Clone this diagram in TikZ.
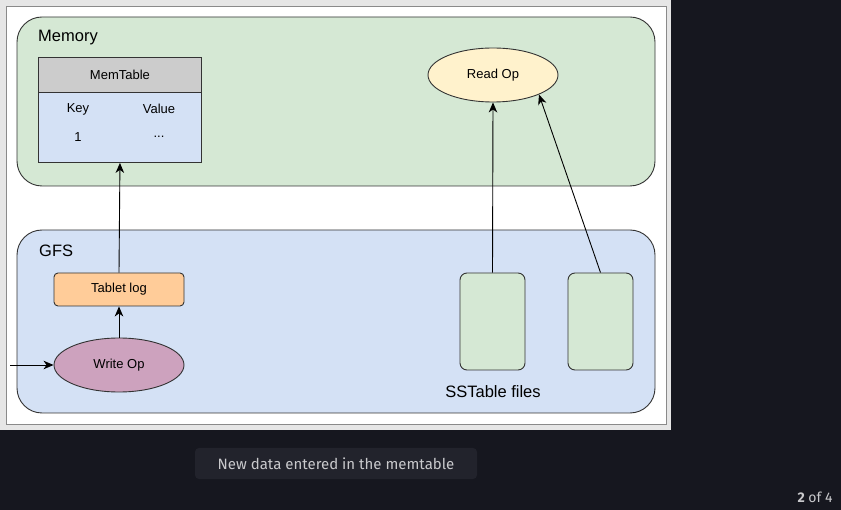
\documentclass[tikz,border=0pt]{standalone}
\usepackage{fontspec}
\setmainfont{Liberation Sans}
\newfontfamily\uifont{Fira Sans}
\usetikzlibrary{shapes.geometric,arrows.meta}
\definecolor{pagebg}{HTML}{16171F}
\definecolor{framegray}{HTML}{E6E6E6}
\definecolor{edgegray}{HTML}{8A8A8A}
\definecolor{memgreen}{HTML}{D5E8D4}
\definecolor{gfsblue}{HTML}{D4E1F5}
\definecolor{headgray}{HTML}{CCCCCC}
\definecolor{logorange}{HTML}{FFCC99}
\definecolor{readyellow}{HTML}{FFF2CC}
\definecolor{writepurple}{HTML}{CDA2BE}
\definecolor{capbg}{HTML}{22232C}
\definecolor{captext}{HTML}{C9C9CC}
\definecolor{linegray}{HTML}{333333}
\tikzset{
  region/.style={draw=linegray, line width=0.9pt, rounded corners=25pt},
  label/.style={anchor=base west, font=\fontsize{16.5}{19}\selectfont},
  small/.style={font=\fontsize{13}{15}\selectfont},
  oval/.style={ellipse, draw=linegray, line width=0.9pt, small, inner sep=0pt},
  filebox/.style={draw=linegray, line width=0.9pt, rounded corners=7pt, fill=memgreen, minimum width=65pt, minimum height=97pt},
  flow/.style={-{Stealth[length=10pt,width=8.5pt,inset=3pt]}, line width=0.9pt, black},
}
\begin{document}
\begin{tikzpicture}[x=1pt,y=-1pt]
  % page and panel
  \fill[pagebg] (0,0) rectangle (841,510);
  \useasboundingbox (0,0) rectangle (841,510);
  \fill[framegray] (0,0) rectangle (671,430);
  \draw[edgegray, fill=white, line width=0.8pt] (6,6) rectangle (666,424);

  % containers
  \draw[region, fill=memgreen] (17,17) rectangle (655,186);
  \node[label, inner sep=0pt] (memlbl) at (38,42) {Memory};
  \draw[region, fill=gfsblue] (17,230) rectangle (655,413);
  \node[label, inner sep=0pt] (gfslbl) at (39,257) {GFS};

  % memtable
  \node[draw=linegray, line width=0.9pt, fill=gfsblue, minimum width=163pt, minimum height=70pt, anchor=north west, inner sep=0pt] (mtbody) at (38,92) {};
  \node[draw=linegray, line width=0.9pt, fill=headgray, minimum width=163pt, minimum height=35pt, anchor=north west, inner sep=0pt, small] (mthead) at (38,57) {MemTable};
  \node[small] (k) at (78,109) {Key};
  \node[small] (v) at (159,109) {Value};
  \node[small] (k1) at (78,137) {1};
  \node[small] (v1) at (159,137) {...};

  % read path
  \node[oval, fill=readyellow, minimum width=130pt, minimum height=54pt] (read) at (493,75) {Read Op};
  \node[filebox] (ss1) at (492.5,321.5) {};
  \node[filebox] (ss2) at (600.5,321.5) {};
  \node[anchor=base, font=\fontsize{16.5}{19}\selectfont] (sslbl) at (493,398) {SSTable files};

  % write path
  \node[draw=linegray, line width=0.9pt, rounded corners=4pt, fill=logorange, minimum width=130pt, minimum height=33pt, small] (log) at (119,289.5) {Tablet log};
  \node[oval, fill=writepurple, minimum width=130pt, minimum height=54pt] (write) at (119,365) {Write Op};
  \coordinate (in) at (10,365);

  % connectors
  \draw[flow] (in) -- (write.west);
  \draw[flow] (write.north) -- (log.south);
  \draw[flow] (log.north) -- (mtbody.south);
  \draw[flow] (ss1.north) -- (read.south);
  \draw[flow] (ss2.north) -- (read.-23.5);

  % caption and counter
  \fill[capbg, rounded corners=4pt] (195,448) rectangle (477,479);
  \node[text=captext, font=\uifont\fontsize{15}{18}\selectfont] (cap) at (336,463.5) {New data entered in the memtable};
  \node[anchor=base east, text=captext, font=\uifont\fontsize{14}{16}\selectfont] (count) at (836,502) {\textbf{2} of 4};
\end{tikzpicture}
\end{document}
